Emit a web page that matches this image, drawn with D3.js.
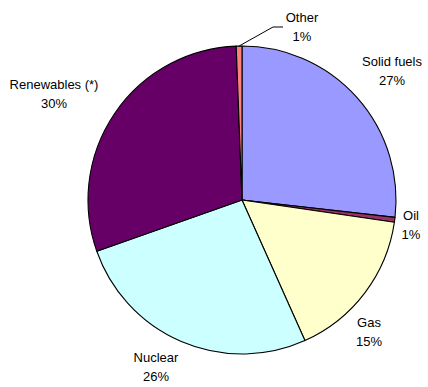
<!DOCTYPE html>
<html>
<head>
<meta charset="utf-8">
<script src="https://cdn.jsdelivr.net/npm/d3@7"></script>
<style>
html,body{margin:0;padding:0;background:#fff;}
svg{display:block;}
text{font-family:Arial,"Liberation Sans",sans-serif;font-size:13px;fill:#000;}
</style>
</head>
<body>
<svg id="chart" width="428" height="387"></svg>
<script>
const categories = ["Solid fuels", "Oil", "Gas", "Nuclear", "Renewables (*)", "Other"];
const values = [26.8, 0.5, 16.0, 26.3, 29.8, 0.6];
const percentLabels = ["27%", "1%", "15%", "26%", "30%", "1%"];
const colors = ["#9999FF", "#993366", "#FFFFCC", "#CCFFFF", "#660066", "#FF8080"];

const cx = 242, cy = 200, R = 154;
// label anchor positions (layout only)
const labelPos = [[392, 66], [411, 220], [369, 327], [156, 362], [54, 89], [302, 22]];

const svg = d3.select("#chart");
const g = svg.append("g").attr("transform", `translate(${cx},${cy})`);

const pie = d3.pie().sort(null).value(d => d)(values);
const arc = d3.arc().innerRadius(0).outerRadius(R);

g.selectAll("path.slice").data(pie).enter().append("path")
  .attr("class", "slice")
  .attr("d", arc)
  .attr("fill", (d, i) => colors[i])
  .attr("stroke", "#000")
  .attr("stroke-width", 1.1)
  .attr("stroke-linejoin", "round");

// leader line for "Other"
const other = pie[5];
const midA = (other.startAngle + other.endAngle) / 2;
const px = cx + Math.sin(midA) * R, py = cy - Math.cos(midA) * R;
svg.append("polyline")
  .attr("points", `${px},${py} ${273},${27} ${283},${27}`)
  .attr("fill", "none").attr("stroke", "#000").attr("stroke-width", 1);

categories.forEach((c, i) => {
  const t = svg.append("text").attr("text-anchor", "middle")
    .attr("x", labelPos[i][0]).attr("y", labelPos[i][1]);
  t.append("tspan").attr("x", labelPos[i][0]).text(c);
  t.append("tspan").attr("x", labelPos[i][0]).attr("dy", 19).text(percentLabels[i]);
});
</script>
</body>
</html>
